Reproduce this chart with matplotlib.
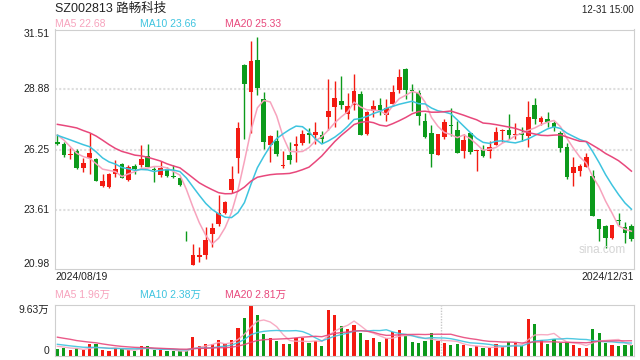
import numpy as np
import pandas as pd
import matplotlib
matplotlib.use("Agg")
import matplotlib.pyplot as plt

plt.rcParams["font.family"] = ["Liberation Sans", "Noto Sans CJK SC"]

title = "SZ002813 路畅科技"
stamp = "12-31 15:00"
start_date = "2024/08/19"
end_date = "2024/12/31"

# daily OHLC, 2024-08-19 .. 2024-12-31 (90 sessions)
open_ = [26.58, 26.49, 26.01, 26.19, 25.46, 25.88, 25.84, 24.67, 24.63, 25.20,
         25.61, 24.94, 25.53, 25.59, 25.98, 25.42, 25.16, 25.39, 25.11, 25.01,
         22.27, 21.22, 21.55, 21.66, 22.58, 23.02, 23.48, 24.49, 25.90, 29.94,
         28.78, 30.16, 28.46, 26.46, 26.62, 25.52, 26.01, 26.42, 26.52, 26.97,
         26.89, 26.89, 27.67, 28.11, 28.37, 27.79, 28.21, 28.68, 26.94, 27.93,
         28.18, 27.77, 28.24, 28.87, 29.75, 28.85, 28.74, 27.48, 26.96, 26.03,
         26.81, 27.32, 27.10, 26.19, 26.96, 26.17, 26.23, 26.19, 26.46, 27.05,
         27.10, 26.87, 26.96, 26.84, 28.20, 27.45, 27.59, 27.41, 26.96, 26.36,
         25.24, 25.33, 25.49, 25.10, 23.22, 22.91, 22.39, 23.16, 22.86, 22.91]
high = [26.93, 26.57, 26.32, 26.27, 25.88, 26.97, 25.87, 25.18, 25.24, 25.78,
        25.67, 25.59, 25.62, 26.46, 26.49, 25.50, 25.77, 25.47, 25.59, 25.05,
        22.68, 22.13, 21.99, 22.86, 23.04, 24.25, 24.02, 25.55, 27.44, 29.98,
        30.98, 31.17, 28.75, 26.90, 27.12, 26.17, 26.58, 26.86, 27.09, 27.19,
        27.45, 27.05, 29.33, 29.23, 29.45, 28.72, 29.55, 28.79, 27.92, 28.43,
        28.50, 28.47, 29.07, 29.75, 29.81, 29.11, 28.85, 27.85, 27.31, 26.93,
        27.60, 28.05, 27.48, 26.93, 27.03, 26.25, 26.44, 26.64, 27.25, 27.15,
        27.80, 27.40, 27.25, 28.37, 28.49, 27.70, 27.89, 27.48, 27.05, 26.54,
        25.91, 25.63, 26.09, 25.37, 23.22, 22.97, 22.97, 23.47, 23.09, 23.02]
low = [26.44, 25.91, 25.85, 25.42, 25.27, 25.18, 24.86, 24.62, 24.59, 25.04,
       24.99, 24.89, 25.20, 25.47, 25.47, 24.82, 25.04, 25.04, 25.01, 24.67,
       22.24, 21.22, 21.33, 21.46, 22.01, 22.90, 23.44, 24.34, 25.24, 26.71,
       26.97, 28.62, 26.29, 25.71, 25.98, 25.43, 25.62, 25.69, 26.46, 26.54,
       26.49, 26.54, 27.12, 27.22, 28.01, 27.60, 27.99, 26.87, 26.90, 27.66,
       27.74, 27.48, 28.14, 28.72, 28.47, 27.92, 27.32, 26.77, 25.47, 26.01,
       26.70, 26.86, 26.09, 25.90, 26.06, 25.33, 25.91, 25.87, 26.44, 26.58,
       26.73, 26.71, 26.61, 26.36, 27.38, 27.31, 27.22, 27.06, 26.15, 24.98,
       24.65, 25.11, 25.47, 23.36, 22.24, 21.95, 22.33, 22.97, 22.17, 22.24]
close = [26.51, 26.03, 26.07, 25.46, 25.66, 26.10, 24.89, 24.88, 25.18, 25.39,
         25.02, 25.47, 25.39, 25.84, 25.50, 25.36, 25.45, 25.11, 25.04, 24.72,
         22.24, 21.65, 21.65, 22.30, 22.83, 23.48, 23.96, 24.97, 27.19, 29.13,
         30.12, 28.94, 26.60, 26.86, 26.06, 25.56, 25.80, 26.49, 26.93, 26.90,
         27.03, 26.70, 27.93, 28.52, 28.20, 28.14, 28.82, 26.87, 27.89, 28.14,
         27.96, 28.08, 28.76, 29.42, 28.87, 28.79, 27.73, 26.81, 26.07, 26.93,
         27.44, 27.29, 26.12, 26.67, 26.14, 26.22, 25.97, 26.36, 27.02, 27.09,
         26.90, 26.93, 26.87, 27.67, 27.60, 27.63, 27.47, 27.24, 26.32, 25.05,
         25.47, 25.55, 25.91, 23.36, 22.78, 22.39, 22.96, 23.12, 22.62, 22.35]
# volume in 万 shares
volume = [1.15, 1.34, 0.96, 1.34, 0.96, 2.10, 2.10, 0.96, 0.77, 1.40,
          1.21, 1.02, 0.77, 1.85, 1.85, 0.96, 0.96, 0.77, 0.77, 0.77,
          0.83, 3.44, 1.85, 2.10, 2.10, 2.87, 2.10, 2.87, 5.17, 7.08,
          9.63, 7.65, 4.02, 3.25, 2.68, 2.10, 2.10, 3.32, 3.32, 2.30,
          2.68, 1.72, 8.61, 7.65, 5.55, 4.97, 5.74, 4.21, 2.87, 3.25,
          2.49, 3.25, 4.53, 4.78, 3.76, 2.49, 2.30, 2.68, 4.27, 2.68,
          2.30, 1.91, 2.10, 1.91, 1.34, 1.72, 1.34, 1.34, 2.10, 1.53,
          2.49, 2.30, 1.72, 6.89, 5.93, 2.87, 2.10, 3.06, 2.30, 2.49,
          1.91, 1.34, 1.34, 4.97, 4.21, 2.30, 1.91, 1.72, 1.91, 1.91]

# sessions before the window, only to warm up the moving averages (estimated)
pre_close = [27.0, 27.1, 26.6, 27.9, 28.1, 27.7, 28.5, 29.0, 28.8, 27.6,
             27.03, 27.07, 26.5, 26.7, 27.0, 27.13, 27.52, 26.91, 26.36]
pre_volume = [5.5, 4.8, 6.2, 4.0, 5.0, 4.5, 5.2, 4.3, 4.6, 3.9,
              2.8, 2.5, 2.6, 2.2, 2.4, 2.0, 1.9, 1.7, 1.9]

price_ticks = [31.51, 28.88, 26.25, 23.61, 20.98]
ma_windows = [5, 10, 20]
ma_last = [22.68, 23.66, 25.33]
vol_ma_last = [1.96, 2.38, 2.81]
vol_top = 9.63

UP = "#f31b12"
DOWN = "#0c9a1b"
MA_COLORS = ["#f7a3bd", "#3ec4df", "#e8487c"]
FRAME = "#cfcfcf"
W, H = 640, 360


def fpos(x, y):
    return x / W, 1 - y / H


n = len(close)
x = np.arange(n)
o = np.array(open_)
c = np.array(close)
colors = [UP if cc >= oo else DOWN for oo, cc in zip(o, c)]

all_close = pd.Series(pre_close + close)
all_vol = pd.Series(pre_volume + volume)
ma = [all_close.rolling(w).mean().to_numpy()[-n:] for w in ma_windows]
vma = [all_vol.rolling(w).mean().to_numpy()[-n:] for w in ma_windows]

fig = plt.figure(figsize=(6.4, 3.6), dpi=100)

# price panel
ax = fig.add_axes([54.5 / W, 1 - 269 / H, 579.5 / W, 239.5 / H])
ax.set_xlim(-0.45, n - 0.6)
ax.set_ylim(21.04, 31.49)
for yv in price_ticks[1:-1]:
    ax.axhline(yv, color="#dedede", lw=1.5, ls=(0, (1, 1)), zorder=0)

ax.vlines(x, low, high, colors=colors, lw=1, zorder=2)
body_bottom = np.minimum(o, c)
body_h = np.maximum(np.abs(c - o), 0.03)
ax.bar(x, body_h, bottom=body_bottom, width=0.72, color=colors, lw=0, zorder=3)

for m, col in zip(ma, MA_COLORS):
    ax.plot(x, m, color=col, lw=1.1, zorder=4)

ax.set_xticks([])
ax.set_yticks([])
for s in ax.spines.values():
    s.set_color(FRAME)

ytr = ax.get_yaxis_transform()
for i, v in enumerate(price_ticks):
    va = "top" if i == 0 else ("bottom" if i == len(price_ticks) - 1 else "center")
    ax.text(-5 / 579.5, v if 0 < i < len(price_ticks) - 1 else ax.get_ylim()[0 if i else 1],
            f"{v:.2f}", transform=ytr, ha="right", va=va, fontsize=7.5, color="#222222")

# volume panel
axv = fig.add_axes([54.5 / W, 1 - 355.5 / H, 579.5 / W, 51 / H])
axv.set_xlim(ax.get_xlim())
axv.set_ylim(0, vol_top)
axv.bar(x, volume, width=0.5, color=colors, lw=0, zorder=2)
for m, col in zip(vma, MA_COLORS):
    axv.plot(x, m, color=col, lw=1, alpha=0.9, zorder=3)
axv.axvline(59.5, color="#c8c8c8", lw=1, ls=(0, (1, 1)), zorder=1)
axv.set_xticks([])
axv.set_yticks([])
for s in axv.spines.values():
    s.set_color(FRAME)
vtr = axv.get_yaxis_transform()
axv.text(-5 / 579.5, vol_top, f"{vol_top:.2f}万", transform=vtr, ha="right", va="top",
         fontsize=7.5, color="#222222")
axv.text(-5 / 579.5, 0, "0", transform=vtr, ha="right", va="bottom",
         fontsize=7.5, color="#222222")

# header and labels
fig.text(*fpos(55, 9), title, ha="left", va="center", fontsize=9, color="#222222")
fig.text(*fpos(634, 10), stamp, ha="right", va="center", fontsize=7, color="#222222")
for xp, w, v, col in zip([55, 140, 225], ma_windows, ma_last, MA_COLORS):
    fig.text(*fpos(xp, 24), f"MA{w} {v:.2f}", ha="left", va="center", fontsize=7.5, color=col)
for xp, w, v, col in zip([55, 140, 225], ma_windows, vol_ma_last, MA_COLORS):
    fig.text(*fpos(xp, 295), f"MA{w} {v:.2f}万", ha="left", va="center", fontsize=7.5, color=col)
fig.text(*fpos(55, 277), start_date, ha="left", va="center", fontsize=7.5, color="#222222")
fig.text(*fpos(634, 277), end_date, ha="right", va="center", fontsize=7.5, color="#222222")
fig.text(*fpos(602, 250), "sina.com", ha="center", va="center", fontsize=8.5, color="#d4d4d4")

fig.savefig("out.png", dpi=100)
